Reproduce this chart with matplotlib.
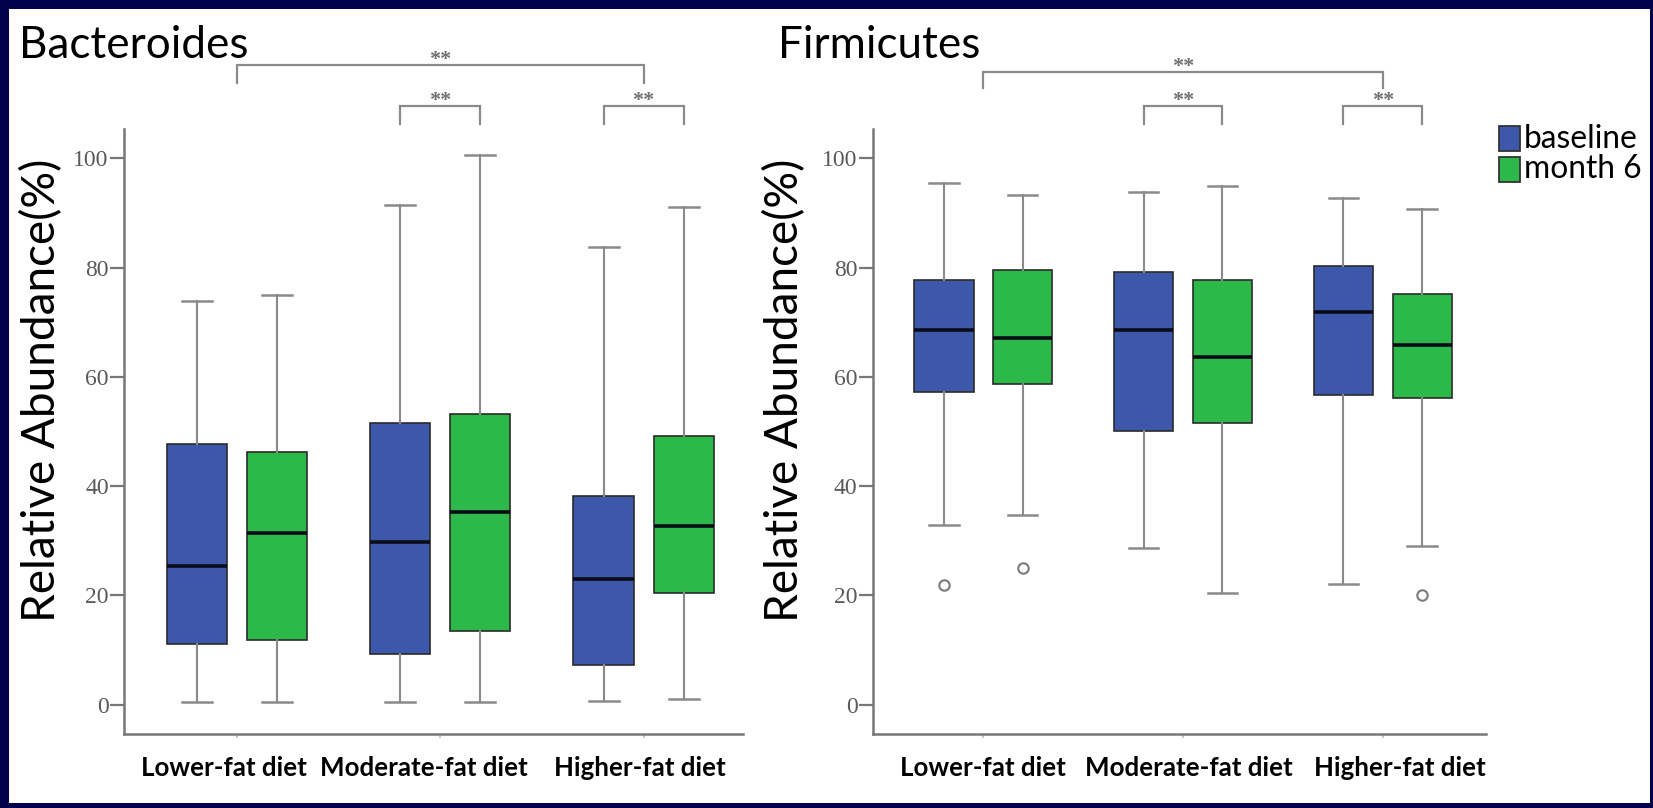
import matplotlib
matplotlib.use("Agg")
import matplotlib.pyplot as plt
import matplotlib.transforms as mtransforms
from matplotlib.patches import Rectangle

W, H = 1653, 808

# ---------------- data ----------------
groups = ["Lower-fat diet", "Moderate-fat diet", "Higher-fat diet"]
series = ["baseline", "month 6"]
colors = ["#3D58AB", "#2DB84A"]
panel_titles = ["Bacteroides", "Firmicutes"]
y_ticks = [0, 20, 40, 60, 80, 100]

# Bacteroides, baseline
bac_base_whislo = [0.55, 0.4, 0.6]
bac_base_q1 = [11.1, 9.3, 7.3]
bac_base_med = [25.3, 29.7, 22.9]
bac_base_q3 = [47.7, 51.5, 38.1]
bac_base_whishi = [73.9, 91.4, 83.7]
bac_base_fliers = [[], [], []]

# Bacteroides, month 6
bac_m6_whislo = [0.4, 0.5, 1.1]
bac_m6_q1 = [11.9, 13.4, 20.4]
bac_m6_med = [31.4, 35.3, 32.7]
bac_m6_q3 = [46.2, 53.2, 49.1]
bac_m6_whishi = [75.0, 100.7, 91.2]
bac_m6_fliers = [[], [], []]

# Firmicutes, baseline
fir_base_whislo = [32.8, 28.6, 22.0]
fir_base_q1 = [57.2, 50.1, 56.6]
fir_base_med = [68.5, 68.5, 71.9]
fir_base_q3 = [77.8, 79.2, 80.3]
fir_base_whishi = [95.5, 93.8, 92.8]
fir_base_fliers = [[21.9], [], []]

# Firmicutes, month 6
fir_m6_whislo = [34.7, 20.5, 29.0]
fir_m6_q1 = [58.7, 51.5, 56.2]
fir_m6_med = [67.2, 63.7, 65.9]
fir_m6_q3 = [79.5, 77.7, 75.1]
fir_m6_whishi = [93.3, 94.9, 90.7]
fir_m6_fliers = [[25.0], [], [20.0]]

# significance brackets: (x_left, x_right) as (group, series) pairs
sig_pairs = [((0, None), (2, None)), ((1, 0), (1, 1)), ((2, 0), (2, 1))]
sig_label = "**"


def make_stats(whislo, q1, med, q3, whishi, fliers):
    return [dict(whislo=a, q1=b, med=c, q3=d, whishi=e, fliers=f)
            for a, b, c, d, e, f in zip(whislo, q1, med, q3, whishi, fliers)]


panels = [
    [make_stats(bac_base_whislo, bac_base_q1, bac_base_med, bac_base_q3, bac_base_whishi, bac_base_fliers),
     make_stats(bac_m6_whislo, bac_m6_q1, bac_m6_med, bac_m6_q3, bac_m6_whishi, bac_m6_fliers)],
    [make_stats(fir_base_whislo, fir_base_q1, fir_base_med, fir_base_q3, fir_base_whishi, fir_base_fliers),
     make_stats(fir_m6_whislo, fir_m6_q1, fir_m6_med, fir_m6_q3, fir_m6_whishi, fir_m6_fliers)],
]

# ---------------- layout helpers ----------------
SANS = ["Lato", "DejaVu Sans"]
SERIF = ["Liberation Serif", "DejaVu Serif"]
AXGREY = "#777777"

fig = plt.figure(figsize=(W / 100, H / 100), dpi=100, facecolor="#00004d")
fig.patches.append(Rectangle((9 / W, 1 - 803 / H), (1650 - 9) / W, (803 - 9) / H,
                             transform=fig.transFigure, facecolor="white",
                             edgecolor="none", zorder=-10))
renderer = fig.canvas.get_renderer()


def px_rect(x0, y0, x1, y1):
    return [x0 / W, 1 - y1 / H, (x1 - x0) / W, (y1 - y0) / H]


def fit(t, target, dim="w"):
    for _ in range(4):
        bb = t.get_window_extent(renderer)
        cur = bb.width if dim == "w" else bb.height
        t.set_fontsize(t.get_fontsize() * target / cur)
    return t.get_fontsize()


def measure_fs(text, target, **kw):
    t = fig.text(0.5, 0.5, text, fontsize=20, **kw)
    fs = fit(t, target)
    t.remove()
    return fs


xt_fs = measure_fs("Higher-fat diet", 171, family=SANS, fontweight="bold")

axes_px = [(124, 129, 743, 734), (872.7, 129, 1486, 734)]
xlims = [(-0.554, 2.488), (-0.554, 2.517)]
ylim = (-5.4, 105.4)
offset = 0.197
bw = 0.296
title_pos = [(19, 58, 229), (778, 58, 202)]
ylabel_pos = [(41.6, 390), (785, 390)]
bracket_y = [(117.2, 113.9), (115.9, 112.9)]
small_y = (109.6, 106.3)
xlabel_shift_px = [(-13, -16, -4), (0, 6, 17)]

for p, ax_rect in enumerate(axes_px):
    ax = fig.add_axes(px_rect(*ax_rect))
    ax.set_facecolor("white")
    ax.set_xlim(*xlims[p])
    ax.set_ylim(*ylim)
    for s in range(len(series)):
        pos = [g + (2 * s - 1) * offset for g in range(len(groups))]
        ax.bxp(panels[p][s], positions=pos, widths=bw, patch_artist=True,
               showfliers=True, manage_ticks=False, capwidths=0.148,
               boxprops=dict(facecolor=colors[s], edgecolor="#2b2b2b", linewidth=1.2),
               medianprops=dict(color="#0b0b18", linewidth=2.6),
               whiskerprops=dict(color="#8a8a8a", linewidth=1.5),
               capprops=dict(color="#8a8a8a", linewidth=1.8),
               flierprops=dict(marker="o", markerfacecolor="white",
                               markeredgecolor="#7a7a7a", markersize=7.5,
                               markeredgewidth=1.5))
    for side in ("top", "right"):
        ax.spines[side].set_visible(False)
    for side in ("left", "bottom"):
        ax.spines[side].set_color(AXGREY)
        ax.spines[side].set_linewidth(1.8)
    ax.set_yticks(y_ticks)
    ax.set_yticklabels([str(v) for v in y_ticks], family=SERIF, color="#5a5a5a")
    ax.tick_params(axis="y", length=10, width=1.6, color=AXGREY, pad=1, labelsize=17)
    ax.set_xticks(range(len(groups)))
    ax.set_xticklabels(groups, family=SANS, fontweight="bold", color="black")
    ax.tick_params(axis="x", length=3, width=1.2, color="#bbbbbb", pad=13, labelsize=xt_fs)
    for lab, dx in zip(ax.get_xticklabels(), xlabel_shift_px[p]):
        lab.set_transform(lab.get_transform() +
                          mtransforms.ScaledTranslation(dx / 100, 0, fig.dpi_scale_trans))

    # significance brackets
    for (ga, sa), (gb, sb) in sig_pairs:
        xa = ga if sa is None else ga + (2 * sa - 1) * offset
        xb = gb if sb is None else gb + (2 * sb - 1) * offset
        yh, yl = bracket_y[p] if sa is None else small_y
        ax.plot([xa, xa, xb, xb], [yl, yh, yh, yl], color="#8a8a8a", lw=1.6,
                clip_on=False, solid_joinstyle="miter")
        ax.text((xa + xb) / 2, yh + 0.9, sig_label, ha="center", va="center",
                fontsize=16, color="#707070", family=SERIF, fontweight="bold",
                clip_on=False)

    # title
    tx, ty, tw = title_pos[p]
    t = fig.text(tx / W, 1 - ty / H, panel_titles[p], ha="left", va="baseline",
                 family=SANS, fontsize=30, color="black")
    fit(t, tw)

    # y label
    lx, ly = ylabel_pos[p]
    t = fig.text(lx / W, 1 - ly / H, "Relative Abundance(%)", rotation=90,
                 ha="center", va="center", family=SANS, fontsize=30, color="black")
    fit(t, 464, dim="h")

# legend (drawn in figure pixel space)
leg_fs = measure_fs("baseline", 114, family=SANS)
leg_rows = [(126, 151), (157, 182)]
for s, (y0, y1) in enumerate(leg_rows):
    fig.patches.append(Rectangle((1499 / W, 1 - y1 / H), 21 / W, (y1 - y0) / H,
                                 transform=fig.transFigure, facecolor=colors[s],
                                 edgecolor="#333333", linewidth=1.3, zorder=3))
    fig.text(1524 / W, 1 - (y0 + y1) / 2 / H, series[s], ha="left", va="center",
             family=SANS, fontsize=leg_fs, color="black")

fig.savefig("out.png", dpi=100, facecolor=fig.get_facecolor())
